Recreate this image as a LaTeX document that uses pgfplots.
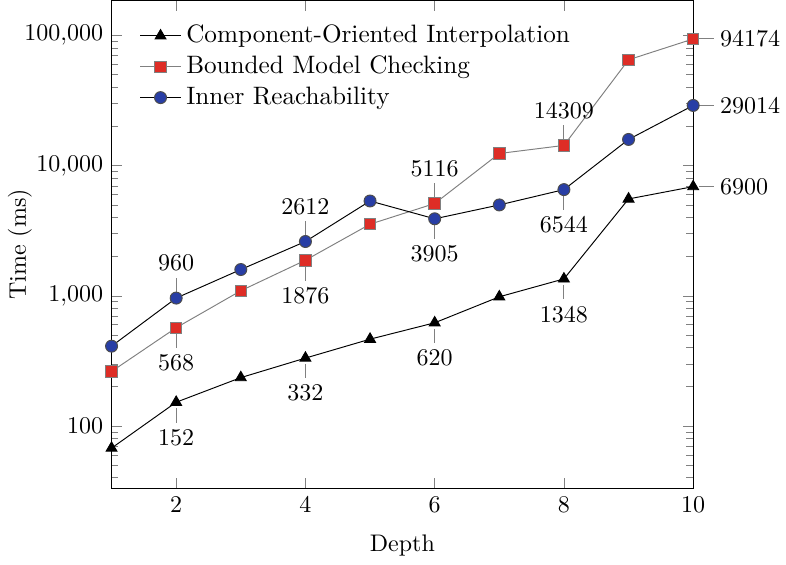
\documentclass[border=0pt]{standalone}
\usepackage{pgfplots}
\pgfplotsset{compat=1.18}
\definecolor{mred}{RGB}{222,45,38}
\definecolor{mblue}{RGB}{40,62,165}
\newcommand{\pinup}[3]{\draw[gray, thin] (axis cs:#1,#2) ++(0pt,2.5pt) -- ++(0pt,6pt) node[above, black, inner sep=2.5pt] {#3};}
\newcommand{\pindown}[3]{\draw[gray, thin] (axis cs:#1,#2) ++(0pt,-2.5pt) -- ++(0pt,-6pt) node[below, black, inner sep=2.5pt] {#3};}
\newcommand{\pinright}[3]{\draw[gray, thin] (axis cs:#1,#2) ++(2.5pt,0pt) -- ++(6pt,0pt) node[right, black, inner sep=2.5pt] {#3};}
\begin{document}
\begin{tikzpicture}
\begin{axis}[
  scale only axis,
  width=242.5pt, height=203.5pt,
  ymode=log,
  xmin=1, xmax=10,
  ymin=33, ymax=186000,
  xtick={2,4,6,8,10},
  log ticks with fixed point,
  xlabel={Depth},
  ylabel={Time (ms)},
  xlabel shift=2.5pt,
  ylabel shift=-10pt,
  legend style={at={(0.035,0.97)}, anchor=north west, draw=none, fill=none,
    font=\fontsize{10.5}{12}\selectfont},
  legend cell align=left,
  clip=false,
]
\addplot[black, mark=triangle*, mark size=2.6pt, mark options={fill=black}] coordinates {
  (1,67.5) (2,152) (3,235) (4,332) (5,464) (6,620) (7,982) (8,1348) (9,5550) (10,6900)
};
\addlegendentry{Component-Oriented Interpolation}
\addplot[gray, mark=square*, mark size=2.4pt, mark options={fill=mred, draw=gray}] coordinates {
  (1,262) (2,568) (3,1093) (4,1876) (5,3550) (6,5116) (7,12400) (8,14309) (9,65100) (10,94174)
};
\addlegendentry{Bounded Model Checking}
\addplot[black, mark=*, mark size=2.5pt, mark options={fill=mblue, draw=black!70}] coordinates {
  (1,410) (2,960) (3,1591) (4,2612) (5,5350) (6,3905) (7,4990) (8,6544) (9,15900) (10,29014)
};
\addlegendentry{Inner Reachability}

\pindown{2}{152}{152}
\pindown{4}{332}{332}
\pindown{6}{620}{620}
\pindown{8}{1348}{1348}
\pinright{10}{6900}{6900}
\pindown{2}{568}{568}
\pindown{4}{1876}{1876}
\pinup{6}{5116}{5116}
\pinup{8}{14309}{14309}
\pinright{10}{94174}{94174}
\pinup{2}{960}{960}
\pinup{4}{2612}{2612}
\pindown{6}{3905}{3905}
\pindown{8}{6544}{6544}
\pinright{10}{29014}{29014}
\end{axis}
\end{tikzpicture}
\end{document}
